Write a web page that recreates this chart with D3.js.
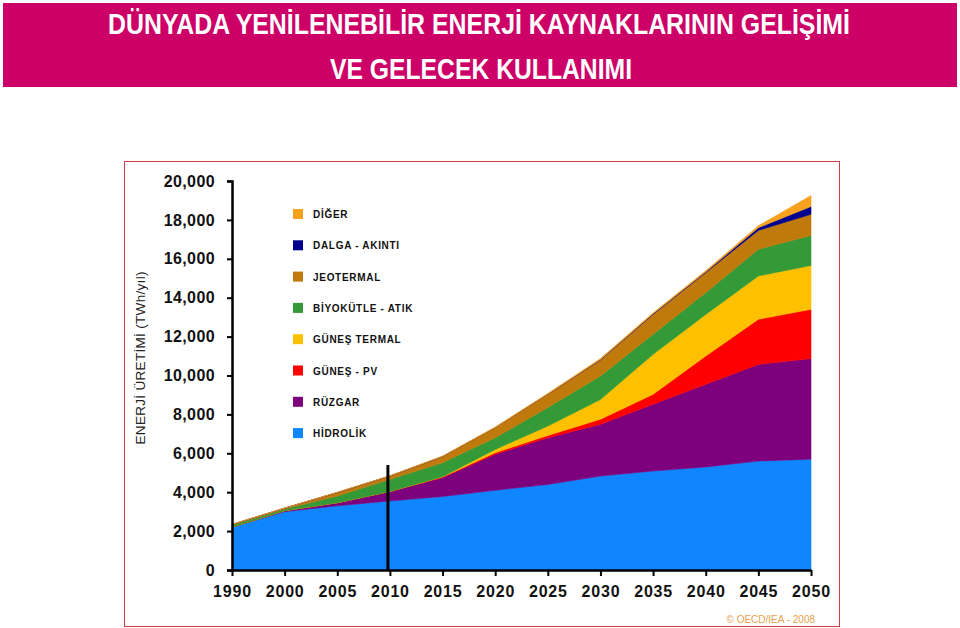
<!DOCTYPE html>
<html>
<head>
<meta charset="utf-8">
<script src="https://cdn.jsdelivr.net/npm/d3@7"></script>
<style>
  body { margin: 0; background: #fff; }
  svg { display: block; font-family: "Liberation Sans", Arial, sans-serif; }
</style>
</head>
<body>
<div id="chart"></div>
<script>
// years on the x axis (evenly spaced categories)
const years = [1990, 2000, 2005, 2010, 2015, 2020, 2025, 2030, 2035, 2040, 2045, 2050];

// TWh/yıl per source
const hidrolik    = [2200, 3000, 3300, 3550, 3780, 4100, 4400, 4830, 5090, 5300, 5600, 5700];
const ruzgar      = [10, 50, 160, 480, 970, 1850, 2400, 2660, 3430, 4250, 4970, 5170];
const gunesPV     = [0, 0, 0, 10, 30, 80, 120, 260, 510, 1450, 2320, 2530];
const gunesTermal = [0, 0, 0, 0, 20, 170, 480, 1020, 2060, 2140, 2230, 2260];
const biyokutle   = [100, 80, 340, 620, 720, 600, 950, 1200, 1030, 1120, 1370, 1540];
const jeotermal   = [30, 50, 180, 170, 310, 520, 680, 830, 1020, 1030, 970, 1090];
const dalga       = [0, 0, 0, 0, 0, 0, 10, 20, 30, 40, 140, 400];
const diger       = [10, 10, 20, 20, 30, 30, 40, 50, 50, 60, 100, 560];

const yTicks = [0, 2000, 4000, 6000, 8000, 10000, 12000, 14000, 16000, 18000, 20000];

// bottom to top
const series = [
  { key: "HİDROLİK", values: hidrolik, color: "#0f86fe" },
  { key: "RÜZGAR", values: ruzgar, color: "#7d007d" },
  { key: "GÜNEŞ - PV", values: gunesPV, color: "#ff0000" },
  { key: "GÜNEŞ TERMAL", values: gunesTermal, color: "#ffc000" },
  { key: "BİYOKÜTLE - ATIK", values: biyokutle, color: "#339a37" },
  { key: "JEOTERMAL", values: jeotermal, color: "#c07a0c" },
  { key: "DALGA - AKINTI", values: dalga, color: "#00008e" },
  { key: "DİĞER", values: diger, color: "#f7a11f" }
];

const markerYear = 2010;
const markerTop = 5400;

const W = 960, H = 628;
const svg = d3.select("#chart").append("svg")
  .attr("width", W)
  .attr("height", H);

// title banner
svg.append("rect")
  .attr("x", 3).attr("y", 3)
  .attr("width", 954).attr("height", 84)
  .attr("fill", "#cc0066");

svg.append("text")
  .attr("x", 108).attr("y", 34)
  .attr("textLength", 742).attr("lengthAdjust", "spacingAndGlyphs")
  .attr("fill", "#fff")
  .style("font-family", "'Liberation Sans Narrow', 'Arial Narrow', 'Liberation Sans', sans-serif")
  .style("font-weight", "bold")
  .style("font-size", "30px")
  .text("DÜNYADA YENİLENEBİLİR ENERJİ KAYNAKLARININ GELİŞİMİ");

svg.append("text")
  .attr("x", 330).attr("y", 79)
  .attr("textLength", 302).attr("lengthAdjust", "spacingAndGlyphs")
  .attr("fill", "#fff")
  .style("font-family", "'Liberation Sans Narrow', 'Arial Narrow', 'Liberation Sans', sans-serif")
  .style("font-weight", "bold")
  .style("font-size", "30px")
  .text("VE GELECEK KULLANIMI");

// chart frame
svg.append("rect")
  .attr("x", 124.5).attr("y", 161.5)
  .attr("width", 715).attr("height", 465)
  .attr("fill", "none")
  .attr("stroke", "#d04040")
  .attr("stroke-width", 1);

const plotLeft = 232, plotRight = 811, plotTop = 181, plotBottom = 570;

const x = d3.scalePoint().domain(years).range([plotLeft, plotRight]);
const y = d3.scaleLinear().domain([0, 20000]).range([plotBottom, plotTop]);

const table = years.map((yr, i) => {
  const row = { year: yr };
  series.forEach(s => { row[s.key] = s.values[i]; });
  return row;
});

const stacked = d3.stack().keys(series.map(s => s.key))(table);

const area = d3.area()
  .x(d => x(d.data.year))
  .y0(d => y(d[0]))
  .y1(d => y(d[1]));

svg.append("g").selectAll("path")
  .data(stacked)
  .join("path")
  .attr("d", area)
  .attr("fill", (d, i) => series[i].color)
  .attr("stroke", (d, i) => series[i].color)
  .attr("stroke-width", 0.6);

// 2010 marker line
svg.append("line")
  .attr("x1", x(markerYear) - 2).attr("x2", x(markerYear) - 2)
  .attr("y1", y(markerTop)).attr("y2", plotBottom)
  .attr("stroke", "#000")
  .attr("stroke-width", 3);

// y axis
const yAxis = svg.append("g")
  .attr("transform", `translate(${plotLeft},0)`)
  .call(d3.axisLeft(y).tickValues(yTicks).tickSize(5).tickPadding(12).tickFormat(d3.format(",")));
yAxis.select(".domain").attr("stroke", "#000").attr("stroke-width", 2.5);
yAxis.selectAll(".tick line").attr("stroke", "#000").attr("stroke-width", 2);
yAxis.selectAll("text")
  .attr("fill", "#111")
  .style("font-size", "16px")
  .style("font-weight", "bold")
  .style("letter-spacing", "0.4px");

// x axis
const xAxis = svg.append("g")
  .attr("transform", `translate(0,${plotBottom})`)
  .call(d3.axisBottom(x).tickSize(6).tickPadding(10).tickSizeOuter(0));
xAxis.select(".domain").attr("stroke", "#000").attr("stroke-width", 2.5);
xAxis.selectAll(".tick line").attr("stroke", "#000").attr("stroke-width", 2);
xAxis.selectAll("text")
  .attr("fill", "#111")
  .style("font-size", "16px")
  .style("font-weight", "bold")
  .style("letter-spacing", "0.8px");

// y axis title
svg.append("text")
  .attr("transform", `translate(145,358) rotate(-90)`)
  .attr("text-anchor", "middle")
  .attr("textLength", 173).attr("lengthAdjust", "spacing")
  .attr("fill", "#222")
  .style("font-size", "13.5px")
  .text("ENERJİ ÜRETİMİ (TWh/yıl)");

// legend, top entry first
const legend = svg.append("g").attr("transform", "translate(293,214)");
const legendRows = legend.selectAll("g")
  .data(series.slice().reverse())
  .join("g")
  .attr("transform", (d, i) => `translate(0,${i * 31.3})`);
legendRows.append("rect")
  .attr("x", 0).attr("y", -5)
  .attr("width", 10).attr("height", 10)
  .attr("fill", d => d.color);
legendRows.append("text")
  .attr("x", 20).attr("y", 4)
  .attr("fill", "#111")
  .style("font-size", "10px")
  .style("font-weight", "bold")
  .style("letter-spacing", "0.7px")
  .text(d => d.key);

// source note
svg.append("text")
  .attr("x", 815).attr("y", 623)
  .attr("text-anchor", "end")
  .attr("fill", "#e8a04a")
  .style("font-size", "10px")
  .text("© OECD/IEA - 2008");
</script>
</body>
</html>
